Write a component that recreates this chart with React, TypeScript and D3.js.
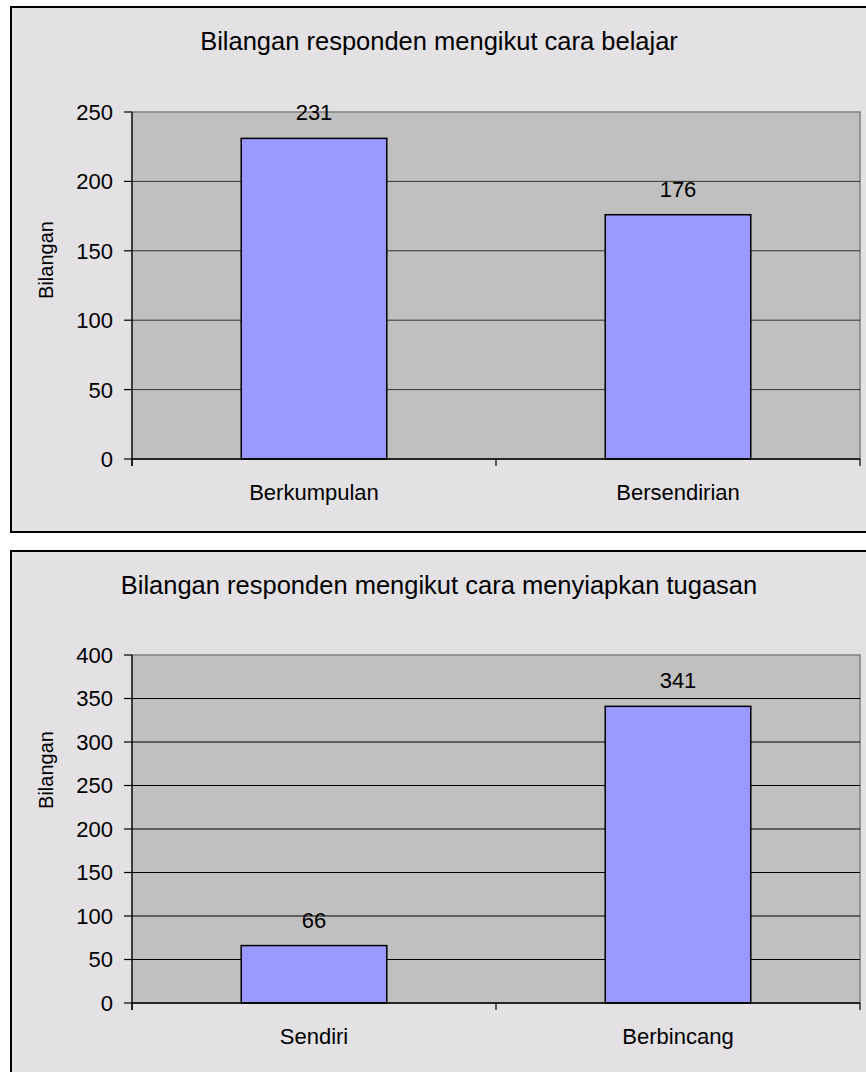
import React from "react";
import * as d3 from "d3";

const chart1Title = "Bilangan responden mengikut cara belajar";
const chart1Categories = ["Berkumpulan", "Bersendirian"];
const chart1Values = [231, 176];
const chart1Ticks = [0, 50, 100, 150, 200, 250];

const chart2Title = "Bilangan responden mengikut cara menyiapkan tugasan";
const chart2Categories = ["Sendiri", "Berbincang"];
const chart2Values = [66, 341];
const chart2Ticks = [0, 50, 100, 150, 200, 250, 300, 350, 400];

const yLabel = "Bilangan";
const FONT = "'Liberation Sans', Arial, sans-serif";

type PanelProps = {
  top: number;
  frameH: number;
  title: string;
  categories: string[];
  values: number[];
  ticks: number[];
  plotTop: number;
  plotBottom: number;
  labelY: number;
  gridColor: string;
};

const Panel: React.FC<PanelProps> = ({
  top,
  frameH,
  title,
  categories,
  values,
  ticks,
  plotTop,
  plotBottom,
  labelY,
  gridColor,
}) => {
  const left = 132;
  const right = 860;
  const x = d3
    .scaleBand()
    .domain(categories)
    .range([left, right])
    .paddingInner(0.6)
    .paddingOuter(0.3);
  const y = d3
    .scaleLinear()
    .domain([0, d3.max(ticks)!])
    .range([plotBottom, plotTop]);
  // category boundaries for the small ticks under the x axis
  const edges = d3.range(categories.length + 1).map((i) => left + i * x.step());

  return (
    <g>
      <rect x={11} y={top} width={858} height={frameH} fill="#e3e1e4" stroke="#000" strokeWidth={2} />
      <text x={439} y={top + 43} textAnchor="middle" fontSize={25.5} fontFamily={FONT} fill="#000">
        {title}
      </text>
      <rect x={left} y={plotTop} width={right - left} height={plotBottom - plotTop} fill="#c0c0c0" stroke="#808080" strokeWidth={1.5} />
      {ticks.slice(1, -1).map((t) => (
        <line key={t} x1={left} x2={right} y1={y(t)} y2={y(t)} stroke={gridColor} strokeWidth={1} />
      ))}
      {categories.map((c, i) => (
        <g key={c}>
          <rect
            x={x(c)!}
            y={y(values[i])}
            width={x.bandwidth()}
            height={y(0) - y(values[i])}
            fill="#9999ff"
            stroke="#000"
            strokeWidth={1.5}
          />
          <text
            x={x(c)! + x.bandwidth() / 2}
            y={y(values[i]) - 18}
            textAnchor="middle"
            fontSize={22}
            fontFamily={FONT}
            fill="#000"
          >
            {values[i]}
          </text>
          <text
            x={x(c)! + x.bandwidth() / 2}
            y={plotBottom + 41}
            textAnchor="middle"
            fontSize={22}
            fontFamily={FONT}
            fill="#000"
          >
            {c}
          </text>
        </g>
      ))}
      <line x1={left} x2={left} y1={plotTop} y2={plotBottom + 7} stroke="#000" strokeWidth={1.2} />
      <line x1={left} x2={right} y1={plotBottom} y2={plotBottom} stroke="#000" strokeWidth={1.5} />
      {edges.map((ex, i) => (
        <line key={i} x1={ex} x2={ex} y1={plotBottom} y2={plotBottom + 7} stroke="#000" strokeWidth={1.2} />
      ))}
      {ticks.map((t) => (
        <g key={t}>
          <line x1={124} x2={left} y1={y(t)} y2={y(t)} stroke="#000" strokeWidth={1.2} />
          <text
            x={113}
            y={y(t)}
            dy="0.36em"
            textAnchor="end"
            fontSize={22}
            fontFamily={FONT}
            fill="#000"
          >
            {t}
          </text>
        </g>
      ))}
      <text
        transform={`translate(53,${labelY}) rotate(-90)`}
        textAnchor="middle"
        fontSize={20}
        fontFamily={FONT}
        fill="#000"
      >
        {yLabel}
      </text>
    </g>
  );
};

export default function App() {
  return (
    <svg
      width={866}
      height={1072}
      style={{ position: "absolute", left: 0, top: 0, background: "#fff" }}
    >
      <Panel
        top={7}
        frameH={525}
        title={chart1Title}
        categories={chart1Categories}
        values={chart1Values}
        ticks={chart1Ticks}
        plotTop={112}
        plotBottom={459}
        labelY={260}
        gridColor="#333"
      />
      <Panel
        top={551}
        frameH={540}
        title={chart2Title}
        categories={chart2Categories}
        values={chart2Values}
        ticks={chart2Ticks}
        plotTop={655}
        plotBottom={1003}
        labelY={770}
        gridColor="#000"
      />
    </svg>
  );
}
